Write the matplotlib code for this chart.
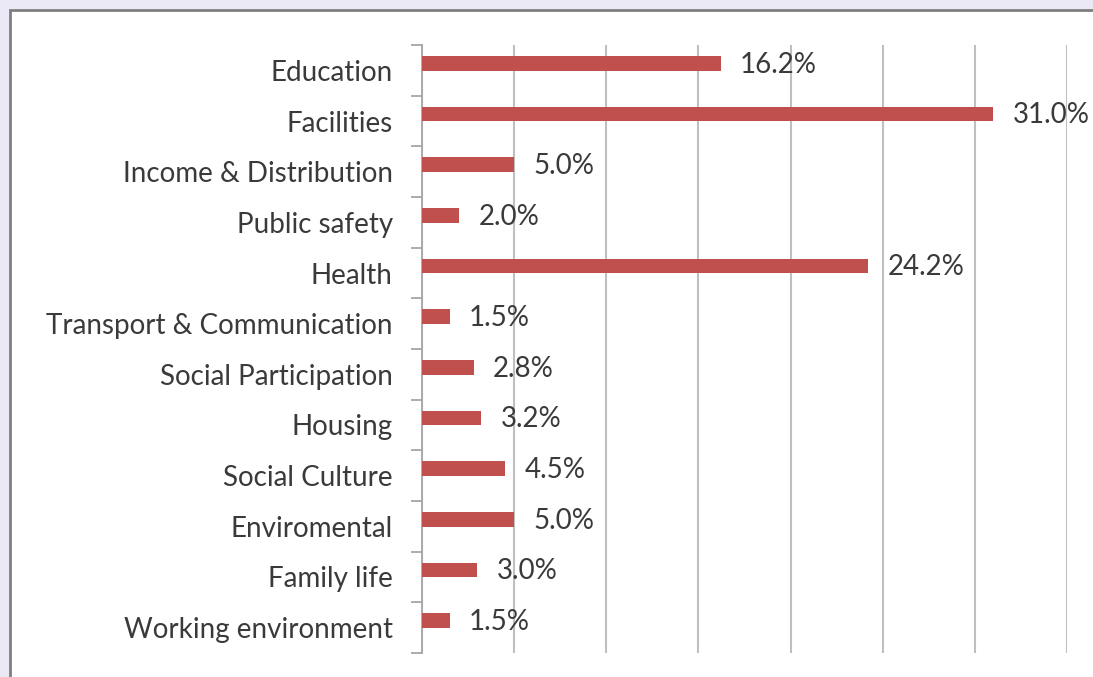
import matplotlib
matplotlib.use("Agg")
import matplotlib.pyplot as plt
from matplotlib.patches import Rectangle

categories = ["Education", "Facilities", "Income & Distribution", "Public safety", "Health",
              "Transport & Communication", "Social Participation", "Housing", "Social Culture",
              "Enviromental", "Family life", "Working environment"]
values = [16.2, 31.0, 5.0, 2.0, 24.2, 1.5, 2.8, 3.2, 4.5, 5.0, 3.0, 1.5]
x_ticks = [0, 5, 10, 15, 20, 25, 30, 35]

plt.rcParams['font.family'] = ['Lato', 'DejaVu Sans']

fig = plt.figure(figsize=(10.93, 6.77), dpi=100)
fig.patch.set_facecolor("#ebe9f6")
# chart frame
frame = Rectangle((10/1093, -0.05), 1.1, 1 - 10/677 + 0.05, transform=fig.transFigure,
                  facecolor="white", edgecolor="#7f7f7f", linewidth=2, zorder=-10)
fig.patches.append(frame)

ax = fig.add_axes([422/1093, 1 - 653/677, (1067 - 422)/1093, (653 - 45)/677])
ax.set_zorder(5)
ax.set_facecolor("none")
n = len(categories)
ypos = list(range(n))
shift = 0.14  # bars sit slightly above slot centre, as in the original
bar_y = [y - shift for y in ypos]
ax.barh(bar_y, values, height=0.29, color="#c0504d", zorder=3)
ax.set_ylim(n - 0.5, -0.5)
ax.set_xlim(0, 35)
ax.set_xticks(x_ticks)
ax.set_xticklabels([])
ax.tick_params(axis="x", length=0)
ax.grid(axis="x", color="#bfbfbf", linewidth=1.5, zorder=0)
ax.set_yticks(ypos)
ax.set_yticklabels(categories, fontsize=20, color="#3a3a3a")
ax.tick_params(axis="y", length=0, pad=21)
# minor ticks at boundaries
ax.set_yticks([i - 0.5 for i in range(n + 1)], minor=True)
ax.tick_params(axis="y", which="minor", length=8, color="#a6a6a6", width=1.3)
for s in ["top", "right", "bottom"]:
    ax.spines[s].set_visible(False)
ax.spines["left"].set_color("#a6a6a6")
ax.spines["left"].set_linewidth(1.3)

for y, v in zip(bar_y, values):
    ax.annotate(f"{v:.1f}%", (v, y + 0.03), xytext=(14, 0), textcoords="offset points",
                va="center", ha="left", fontsize=20, color="#3a3a3a", zorder=4)

fig.savefig("out.png", dpi=100, facecolor=fig.get_facecolor())
